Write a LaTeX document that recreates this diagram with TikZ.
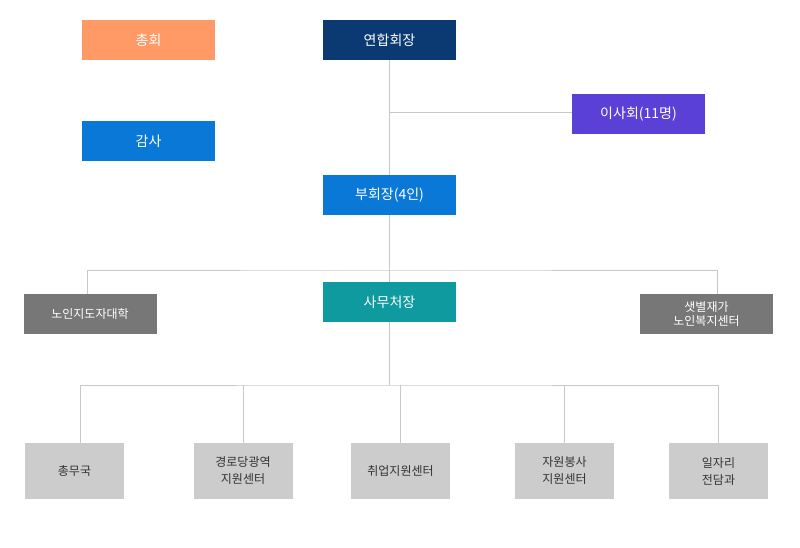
\documentclass[tikz,border=0pt]{standalone}
\usepackage{fontspec}
\setmainfont{Noto Sans CJK KR}
\usetikzlibrary{positioning}
\definecolor{navy}{HTML}{0B3A73}
\definecolor{salmon}{HTML}{FF9966}
\definecolor{purp}{HTML}{5B40D8}
\definecolor{blu}{HTML}{0A78D7}
\definecolor{teal2}{HTML}{0E9A9E}
\definecolor{grayd}{HTML}{777777}
\definecolor{grayl}{HTML}{CCCCCC}
\definecolor{linec}{HTML}{C8C8C8}

\begin{document}
\begin{tikzpicture}[x=1pt,y=-1pt,
	box/.style={fill=#1, text=white, minimum width=133pt, minimum height=40pt, inner sep=0pt, font=\fontsize{14}{16}\selectfont},
	sbox/.style={fill=grayd, text=white, minimum width=133pt, minimum height=40pt, inner sep=0pt, align=center, font=\fontsize{12}{14}\selectfont},
	lbox/.style={fill=grayl, text=black!80, minimum width=99pt, minimum height=56pt, inner sep=0pt, align=center, font=\fontsize{12}{17}\selectfont},
	conn/.style={draw=linec, line width=0.8pt}]
	\useasboundingbox (0,0) rectangle (800,547);
	\node[box=salmon] (gen) at (148.5, 40) {총회};
	\node[box=navy] (pres) at (389.5, 40) {연합회장};
	\node[box=purp] (board) at (638.5, 114) {이사회(11명)};
	\node[box=blu] (audit) at (148.5, 141) {감사};
	\node[box=blu] (vice) at (389.5, 195) {부회장(4인)};
	\node[box=teal2] (sec) at (389.5, 302) {사무처장};
	\node[sbox] (univ) at (90, 314) {노인지도자대학};
	\node[sbox] (star) at (706.5, 314) {샛별재가\\노인복지센터};
	\node[lbox] (gad) at (74.5, 471) {총무국};
	\node[lbox] (hall) at (243, 471) {경로당광역\\지원센터};
	\node[lbox] (job) at (400.5, 471) {취업지원센터};
	\node[lbox] (vol) at (564.5, 471) {자원봉사\\지원센터};
	\node[lbox] (work) at (718.5, 471) {일자리\\전담과};
	\coordinate (br) at (389.5, 112);
	\coordinate (mid) at (389.5, 270);
	\coordinate (low) at (389.5, 385);
	% connectors
	\draw[conn] (pres) -- (vice);
	\draw[conn] (br) -- (board.west |- br);
	\draw[conn] (vice) -- (sec);
	\draw[conn] (univ.north -| 87,0) |- (mid) -| (star.north -| 717,0);
	\draw[conn] (sec) -- (low);
	\draw[conn] (gad.north -| 80,0) |- (low) -| (work.north);
	\foreach \n in {hall, job, vol}
		\draw[conn] (\n.north) -- (\n.north |- low);
\end{tikzpicture}
\end{document}
